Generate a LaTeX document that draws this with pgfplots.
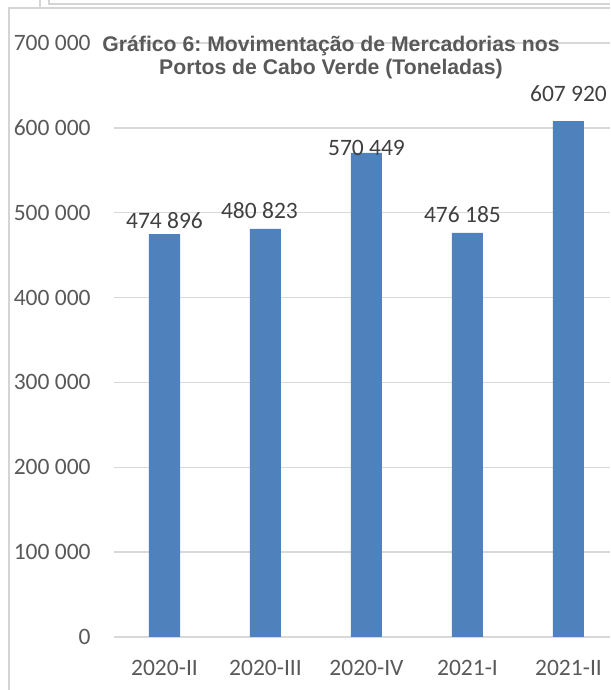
\documentclass[border=0pt]{standalone}
\usepackage{pgfplots}
\pgfplotsset{compat=1.18}
\usepackage{fontspec}
\setmainfont{Carlito}
\newfontfamily\titlefont{Liberation Sans}
\definecolor{barblue}{HTML}{4F81BD}
\definecolor{gridgrey}{HTML}{D9D9D9}
\definecolor{ticktext}{HTML}{595959}
\definecolor{labeltext}{HTML}{404040}
\definecolor{frame}{HTML}{D4D4D4}
\frenchspacing
\begin{document}
\begin{tikzpicture}[x=0.5pt,y=0.5pt]
\useasboundingbox (0,0) rectangle (610,690);
% screenshot frame remnants
\draw[frame, line width=1pt] (9,0) -- (9,682) -- (610,682);
\draw[frame, line width=1pt] (40,690) -- (40,682);
\draw[frame, line width=1pt] (49,690) -- (49,686) -- (610,686);
\begin{axis}[
  at={(57pt,26.5pt)}, anchor=south west,
  scale only axis, width=248pt, height=297pt,
  xmin=-0.5, xmax=4.411, ymin=0, ymax=700000,
  scaled y ticks=false,
  ybar, bar width=15.5pt,
  xtick={0,1,2,3,4},
  xticklabels={2020-II,2020-III,2020-IV,2021-I,2021-II},
  ytick={0,100000,200000,300000,400000,500000,600000,700000},
  yticklabels={0,100 000,200 000,300 000,400 000,500 000,600 000,700 000},
  ymajorgrids, grid style={gridgrey, line width=0.75pt},
  axis line style={draw=none}, major tick length=0pt,
  tick label style={font=\fontsize{11.75}{14}\selectfont, text=ticktext, inner sep=0pt},
  yticklabel style={xshift=-11.5pt},
  xticklabel style={yshift=-11.5pt},
  clip=false,
]
\addplot[fill=barblue, draw=none] coordinates {(0,474896) (1,480823) (2,570449) (3,476185) (4,607920)};
\tikzset{lab/.style={anchor=base, inner sep=0pt, text=labeltext, font=\fontsize{11.75}{14}\selectfont}}
\node[lab] at (axis cs:0,480958) {474 896};
\node[lab] at (axis cs:0.94,492750) {480 823};
\node[lab] at (axis cs:2,567020) {570 449};
\node[lab] at (axis cs:2.95,488035) {476 185};
\node[lab] at (axis cs:4,630673) {607 920};
\end{axis}
\node[anchor=base, inner sep=0pt, text=ticktext, font=\titlefont\bfseries\fontsize{10.6}{12}\selectfont] at (331,638) {Gráfico 6: Movimentação de Mercadorias nos};
\node[anchor=base, inner sep=0pt, text=ticktext, font=\titlefont\bfseries\fontsize{10.6}{12}\selectfont] at (331,615) {Portos de Cabo Verde (Toneladas)};
\end{tikzpicture}
\end{document}
